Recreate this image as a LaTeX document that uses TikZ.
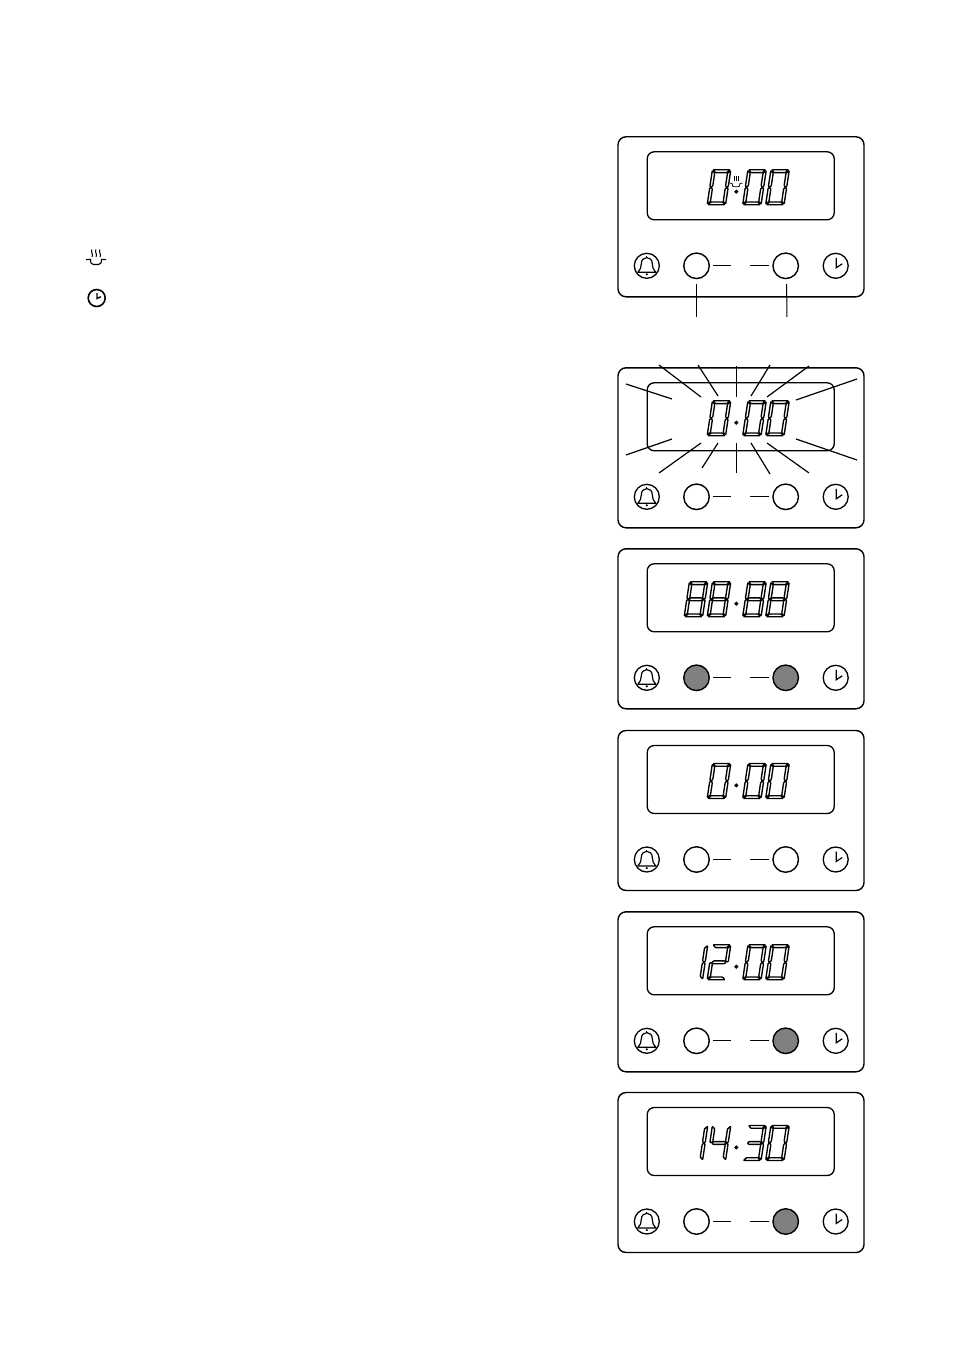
\documentclass[tikz,border=0pt]{standalone}
\usetikzlibrary{positioning}

\tikzset{
    panelbox/.style={draw, line width=1.4pt, rounded corners=8pt, minimum width=246pt, minimum height=160pt, inner sep=0pt},
    displaybox/.style={draw, line width=1.3pt, rounded corners=7pt, minimum width=187pt, minimum height=68pt, inner sep=0pt},
    keybtn/.style={draw, circle, line width=1.4pt, minimum size=25.5pt, inner sep=0pt},
    iconbtn/.style={draw, circle, line width=1.3pt, minimum size=25pt, inner sep=0pt},
    tickline/.style={line width=1.3pt},
    segline/.style={line width=1.35pt, line join=round, rounded corners=0.6pt},
    rayline/.style={line width=1.2pt}
}

% lcd segments, top left of the digit at (0,0)
\newcommand{\sega}{\draw[segline] (0.8,0) -- (17.6,0) -- (15,2.8) -- (3.4,2.8) -- cycle;}
\newcommand{\segb}{\draw[segline] (18.4,0.8) -- (18.4,16.6) -- (17,17.3) -- (15.6,16) -- (15.6,3.4) -- cycle;}
\newcommand{\segc}{\draw[segline] (18.4,18.4) -- (18.4,34.2) -- (15.6,31.6) -- (15.6,19) -- (17,17.7) -- cycle;}
\newcommand{\segd}{\draw[segline] (0.8,35) -- (17.6,35) -- (15,32.2) -- (3.4,32.2) -- cycle;}
\newcommand{\sege}{\draw[segline] (0,18.4) -- (0,34.2) -- (2.8,31.6) -- (2.8,19) -- (1.4,17.7) -- cycle;}
\newcommand{\segf}{\draw[segline] (0,0.8) -- (0,16.6) -- (1.4,17.3) -- (2.8,16) -- (2.8,3.4) -- cycle;}
\newcommand{\segg}{\draw[segline] (2.2,17.5) -- (3.6,16.1) -- (14.8,16.1) -- (16.2,17.5) -- (14.8,18.9) -- (3.6,18.9) -- cycle;}

\newcommand{\lcddigit}[2]{%
    \begin{scope}[shift={(#1,33)}, xslant=0.15]
        \foreach \s in {#2} {\csname seg\s\endcsname}
    \end{scope}}

% bell and clock signs on the round keys
\newcommand{\bellsign}[1]{%
    \begin{scope}[shift={(#1)}]
        \draw[line width=1.2pt, line join=round] (-9,6.5) .. controls (-6.5,4.5) and (-5.5,1) .. (-5.5,-2) .. controls (-5.5,-6) and (-3,-8.2) .. (0,-8.2) .. controls (3,-8.2) and (5.5,-6) .. (5.5,-2) .. controls (5.5,1) and (6.5,4.5) .. (9,6.5) -- cycle;
        \draw[line width=1pt] (0,-8.2) -- (0,-9.8);
        \fill (0,8.5) circle (1.2);
    \end{scope}}
\newcommand{\clocksign}[1]{%
    \draw[line width=1.2pt] (#1) ++(0.5,-8) -- ++(0,10) -- ++(6,-4);}

% one panel: name, top edge, colour of left key, colour of right key
\newcommand{\ovenpanel}[4]{%
    \begin{scope}[shift={(0,#2)}]
        \node[panelbox] (#1) at (741,80) {};
        \node[displaybox] (#1disp) at (740.7,49) {};
        \node[iconbtn] (#1bell) at (646.8,129) {};
        \node[keybtn, fill=#3] (#1minus) at (696.5,129) {};
        \node[keybtn, fill=#4] (#1plus) at (785.7,129) {};
        \node[iconbtn] (#1clock) at (835.7,129) {};
        \bellsign{#1bell}
        \clocksign{#1clock}
        \coordinate (#1minusend) at (731,129);
        \coordinate (#1plusend) at (750,129);
        \draw[tickline] ([xshift=3pt]#1minus.east) -- (#1minusend);
        \draw[tickline] ([xshift=-3pt]#1plus.west) -- (#1plusend);
        \fill (736.3,52.7) -- ++(2.2,2.2) -- ++(-2.2,2.2) -- ++(-2.2,-2.2) -- cycle;
    \end{scope}}

\newcommand{\digitsatzero}{%
    \lcddigit{712.4}{a,b,c,d,e,f}
    \lcddigit{747.9}{a,b,c,d,e,f}
    \lcddigit{770.9}{a,b,c,d,e,f}}

\begin{document}
\begin{tikzpicture}[x=1pt, y=-1pt]
    \useasboundingbox (0,0) rectangle (954,1351);
    \fill[white] (0,0) rectangle (954,1351);

    % Legend signs at the left
    \node[draw, circle, line width=1.6pt, minimum size=17pt, inner sep=0pt] (legendclock) at (96.7,298) {};
    \draw[line width=1.4pt] (legendclock) ++(0.3,-5) -- ++(0,5.5) -- ++(3.8,-1.8);
    \draw[line width=1.1pt] (86,259.5) -- (90.5,259.5) .. controls (90.5,263) and (91.5,264.5) .. (93.5,264.5) -- (98.5,264.5) .. controls (100.5,264.5) and (101.5,263) .. (101.5,259.5) -- (106,259.5);
    \foreach \x in {92,96,100} {
        \draw[line width=1pt] (\x,249.5) .. controls (\x-1.8,252) and (\x+1.8,254) .. (\x,257);
    }

    % Panel 1
    \ovenpanel{first}{136.8}{white}{white}
    \begin{scope}[shift={(0,136.8)}]
        \digitsatzero
        \draw[line width=0.8pt] (729.5,46.5) -- (732,46.5) .. controls (732,49.5) and (733,50) .. (734.5,50) -- (737.5,50) .. controls (739,50) and (740,49.5) .. (740,46.5) -- (742.5,46.5);
        \foreach \x in {733.8,736,738.2} {
            \draw[line width=0.5pt] (\x,39.5) -- (\x,44.5);
        }
    \end{scope}
    \coordinate (firstminusend) at (696.5,317);
    \coordinate (firstplusend) at (786.8,317);
    \draw[line width=1.8pt] ([yshift=-4.5pt]firstminus.south) -- (firstminusend);
    \draw[line width=1pt] ([yshift=-4.5pt,xshift=1pt]firstplus.south) -- (firstplusend);

    % Panel 2 with the flash rays
    \ovenpanel{second}{367.8}{white}{white}
    \begin{scope}[shift={(0,367.8)}]
        \digitsatzero
    \end{scope}
    \foreach \xa/\ya/\xb/\yb in {659/365/701/397, 698/365/718/396, 736.5/366/736.5/397, 770/365/751/396, 809/366/767/397, 857/379/796/400, 626/384/672/399, 626/455/672/439, 659/473/701/443, 702/468/718/443, 736.5/473/736.5/443, 770/474/751/443, 809/473/767/443, 857/460/796/439} {
        \draw[rayline] (\xa,\ya) -- (\xb,\yb);
    }

    % Panel 3
    \ovenpanel{third}{548.8}{black!50}{black!50}
    \begin{scope}[shift={(0,548.8)}]
        \lcddigit{689.4}{a,b,c,d,e,f,g}
        \lcddigit{712.4}{a,b,c,d,e,f,g}
        \lcddigit{747.9}{a,b,c,d,e,f,g}
        \lcddigit{770.9}{a,b,c,d,e,f,g}
    \end{scope}

    % Panel 4
    \ovenpanel{fourth}{730.5}{white}{white}
    \begin{scope}[shift={(0,730.5)}]
        \digitsatzero
    \end{scope}

    % Panel 5
    \ovenpanel{fifth}{911.8}{white}{black!50}
    \begin{scope}[shift={(0,911.8)}]
        \lcddigit{689.4}{b,c}
        \lcddigit{712.4}{a,b,g,e,d}
        \lcddigit{747.9}{a,b,c,d,e,f}
        \lcddigit{770.9}{a,b,c,d,e,f}
    \end{scope}

    % Panel 6
    \ovenpanel{sixth}{1092.5}{white}{black!50}
    \begin{scope}[shift={(0,1092.5)}]
        \lcddigit{689.4}{b,c}
        \lcddigit{712.4}{f,g,b,c}
        \lcddigit{747.9}{a,b,g,c,d}
        \lcddigit{770.9}{a,b,c,d,e,f}
    \end{scope}
\end{tikzpicture}
\end{document}
